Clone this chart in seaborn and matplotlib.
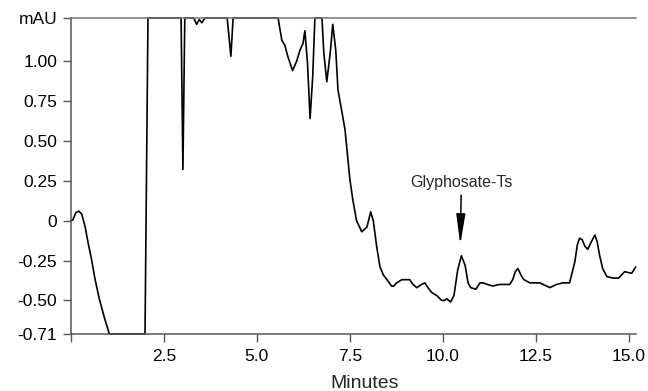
#
#------------------------------------------------------------------------#
# Import required modules
import numpy as np
import pandas as pd
import seaborn as sns
import matplotlib
matplotlib.use("Agg")
import matplotlib.pyplot as plt
#
#------------------------------------------------------------------------#
# Chromatogram values (minutes, mAU)
# signal is clipped at the top of the detector range (1.27)
minutes = [0.0, 0.05, 0.13, 0.21, 0.29, 0.38, 0.46, 0.55, 0.64, 0.76, 0.9, 1.03,
           1.99, 2.07,
           2.96, 3.01, 3.06, 3.3, 3.38, 3.45, 3.52, 3.6, 4.2, 4.3, 4.36,
           5.57, 5.67, 5.75, 5.83, 5.96, 6.07, 6.16, 6.24, 6.29, 6.36, 6.43,
           6.5, 6.56, 6.75, 6.8, 6.88, 6.98, 7.04, 7.12, 7.18, 7.28, 7.37,
           7.5, 7.58, 7.68, 7.82, 7.96, 8.06, 8.13, 8.22, 8.31, 8.4, 8.53,
           8.62, 8.68, 8.76, 8.9, 9.03, 9.11, 9.2, 9.3, 9.43, 9.52, 9.6,
           9.7, 9.84, 9.97, 10.05, 10.11, 10.21, 10.3, 10.4, 10.5, 10.6,
           10.68, 10.75, 10.89, 11.0, 11.08, 11.2, 11.34, 11.53, 11.8,
           11.88, 11.95, 12.02, 12.1, 12.18, 12.34, 12.61, 12.88, 13.06,
           13.23, 13.41, 13.55, 13.62, 13.68, 13.75, 13.82, 13.9, 13.98,
           14.09, 14.15, 14.22, 14.3, 14.41, 14.57, 14.73, 14.89, 15.08, 15.19]
mau = [0.0, 0.005, 0.05, 0.06, 0.04, -0.04, -0.14, -0.24, -0.36, -0.49, -0.61, -0.71,
       -0.71, 1.27,
       1.27, 0.32, 1.27, 1.27, 1.23, 1.26, 1.24, 1.27, 1.27, 1.03, 1.27,
       1.27, 1.13, 1.10, 1.03, 0.94, 1.0, 1.07, 1.11, 1.19, 0.99, 0.64,
       0.90, 1.27, 1.27, 1.05, 0.87, 1.07, 1.23, 1.07, 0.82, 0.69, 0.57,
       0.26, 0.13, 0.0, -0.07, -0.04, 0.055, 0.0, -0.16, -0.29, -0.34, -0.38,
       -0.41, -0.41, -0.39, -0.37, -0.37, -0.37, -0.40, -0.42, -0.40, -0.39, -0.42,
       -0.45, -0.47, -0.50, -0.50, -0.49, -0.51, -0.47, -0.31, -0.22, -0.28,
       -0.39, -0.42, -0.43, -0.39, -0.39, -0.40, -0.41, -0.40, -0.40,
       -0.37, -0.32, -0.30, -0.34, -0.37, -0.39, -0.39, -0.42, -0.40,
       -0.39, -0.39, -0.26, -0.15, -0.11, -0.12, -0.16, -0.18, -0.14,
       -0.09, -0.13, -0.22, -0.30, -0.35, -0.36, -0.36, -0.32, -0.33, -0.29]
#
# axis ticks
xTicks = [0, 2.5, 5.0, 7.5, 10.0, 12.5, 15.0]
xTickLabels = ["", "2.5", "5.0", "7.5", "10.0", "12.5", "15.0"]
yTicks = [-0.71, -0.5, -0.25, 0, 0.25, 0.5, 0.75, 1.0, 1.27]
yTickLabels = ["-0.71", "-0.50", "-0.25", "0", "0.25", "0.50", "0.75", "1.00", "mAU"]
#
# peak annotation
peakName = "Glyphosate-Ts"
peakTime = 10.47
#
#------------------------------------------------------------------------#
# Plot
sns.set_style("ticks")
plt.rcParams["font.family"] = ["Liberation Sans", "DejaVu Sans"]
#
data = pd.DataFrame({"minutes": minutes, "mAU": mau})
#
fig = plt.figure(figsize=(6.48, 3.91), dpi=100)
ax = fig.add_axes([0.1096, 0.146, 0.8715, 0.808])
sns.lineplot(x="minutes", y="mAU", data=data, ax=ax, color="black",
             linewidth=1.2, sort=False, estimator=None, clip_on=False,
             solid_joinstyle="round")
#
ax.set_xlim(0, 15.19)
ax.set_ylim(-0.71, 1.27)
ax.set_xticks(xTicks)
ax.set_xticklabels(xTickLabels)
ax.set_yticks(yTicks)
ax.set_yticklabels(yTickLabels)
ax.tick_params(axis="both", labelsize=12.5, length=6, width=1,
               color="#555555", labelcolor="black")
ax.tick_params(axis="y", pad=4)
ax.tick_params(axis="x", pad=5)
ax.set_xlabel("Minutes", fontsize=14)
ax.xaxis.set_label_coords(0.52, -0.13)
ax.set_ylabel("")
#
# spines: left and bottom dark gray, top gray line, no right one
ax.spines["right"].set_visible(False)
ax.spines["top"].set_color("#777777")
ax.spines["left"].set_color("#555555")
ax.spines["bottom"].set_color("#555555")
for s in ["top", "left", "bottom"]:
    ax.spines[s].set_linewidth(1.1)
#
ax.annotate(peakName, xy=(peakTime, -0.15), xytext=(peakTime + 0.03, 0.24),
            ha="center", va="center", fontsize=11.5,
            arrowprops=dict(arrowstyle="-|>,head_length=1.6,head_width=0.24",
                            color="black", lw=1.1, shrinkA=1.5, shrinkB=0))
#
plt.savefig("out.png", dpi=100)
